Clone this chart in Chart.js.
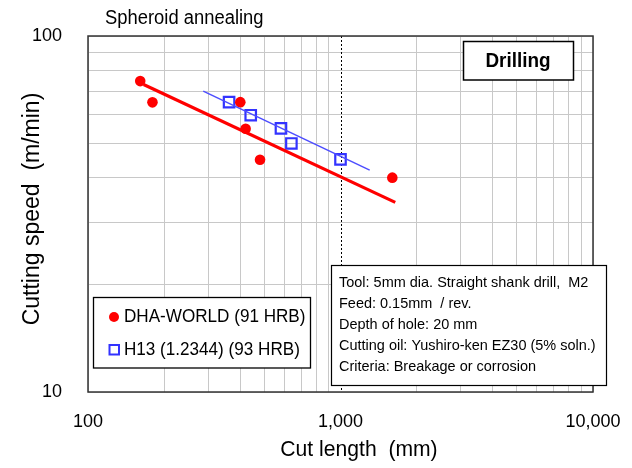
<!DOCTYPE html>
<html>
<head>
<meta charset="utf-8">
<script src="https://cdn.jsdelivr.net/npm/chart.js@4.4.1/dist/chart.umd.min.js"></script>
<style>
  html, body { margin: 0; padding: 0; background: #fff; }
  canvas { display: block; }
</style>
</head>
<body>
<canvas id="c" width="632" height="468"></canvas>
<script>
// ---- data ----
const dhaX = [161, 180, 401, 421, 480, 1604];
const dhaY = [74.7, 65.1, 65.2, 54.9, 44.9, 40.0];
const h13X = [362, 441, 581, 639, 1000];
const h13Y = [65.2, 59.9, 55.0, 49.9, 45.0];
const dhaFitX = [166, 1648];
const dhaFitY = [73.1, 34.1];
const h13FitX = [286, 1305];
const h13FitY = [70.0, 42.0];

const xTickVals = [100,200,300,400,500,600,700,800,900,1000,2000,3000,4000,5000,6000,7000,8000,9000,10000];
const yTickVals = [10,20,30,40,50,60,70,80,90,100];
const xMajor = [100, 1000, 10000];
const xMajorLabels = ['100', '1,000', '10,000'];
const yMajor = [10, 100];
const yMajorLabels = ['10', '100'];

const seriesNames = ['DHA-WORLD (91 HRB)', 'H13 (1.2344) (93 HRB)'];
const chartTitle = 'Spheroid annealing';
const boxLabel = 'Drilling';
const xTitle = 'Cut length  (mm)';
const yTitle = 'Cutting speed  (m/min)';
const infoLines = [
  'Tool: 5mm dia. Straight shank drill,  M2',
  'Feed: 0.15mm  / rev.',
  'Depth of hole: 20 mm',
  'Cutting oil: Yushiro-ken EZ30 (5% soln.)',
  'Criteria: Breakage or corrosion'
];

const FONT = "'Liberation Sans', Arial, sans-serif";
const RED = '#ff0000';
const BLUE = '#3333ff';

const pts = (xs, ys) => xs.map((x, i) => ({x: x, y: ys[i]}));

function drawText(ctx, text, x, y, font, align, sx) {
  ctx.save();
  ctx.translate(x, y);
  ctx.scale(sx, 1);
  ctx.font = font;
  ctx.textAlign = align;
  ctx.textBaseline = 'middle';
  ctx.fillStyle = '#000';
  ctx.fillText(text, 0, 0);
  ctx.restore();
}

const annot = {
  id: 'annot',
  beforeDatasetsDraw(chart) {
    const {ctx, chartArea: a, scales: {x}} = chart;
    ctx.save();
    const px = Math.round(x.getPixelForValue(1000)) + 0.5;
    ctx.strokeStyle = '#000';
    ctx.lineWidth = 1;
    ctx.setLineDash([2, 2]);
    ctx.beginPath(); ctx.moveTo(px, a.top); ctx.lineTo(px, a.bottom); ctx.stroke();
    ctx.setLineDash([]);
    ctx.lineWidth = 1.5;
    ctx.strokeStyle = '#333';
    ctx.strokeRect(a.left, a.top, a.right - a.left, a.bottom - a.top);
    ctx.restore();
  },
  afterDraw(chart) {
    const ctx = chart.ctx;
    ctx.save();
    // chart title
    drawText(ctx, chartTitle, 105, 18, '20px ' + FONT, 'left', 0.92);
    // axis titles
    drawText(ctx, xTitle, 359, 450, '22px ' + FONT, 'center', 0.96);
    ctx.save();
    ctx.translate(33, 209);
    ctx.rotate(-Math.PI / 2);
    drawText(ctx, yTitle, 0, 0, '23px ' + FONT, 'center', 1.0);
    ctx.restore();

    // Drilling box
    ctx.fillStyle = '#fff';
    ctx.fillRect(463.5, 41.5, 110, 38.5);
    ctx.strokeStyle = '#000';
    ctx.lineWidth = 1.5;
    ctx.strokeRect(463.5, 41.5, 110, 38.5);
    drawText(ctx, boxLabel, 518, 61, 'bold 21px ' + FONT, 'center', 0.9);

    // legend box
    ctx.fillStyle = '#fff';
    ctx.fillRect(93.5, 297.5, 217, 70.5);
    ctx.strokeStyle = '#000';
    ctx.lineWidth = 1.3;
    ctx.strokeRect(93.5, 297.5, 217, 70.5);
    ctx.fillStyle = RED;
    ctx.beginPath(); ctx.arc(114, 317, 5, 0, Math.PI * 2); ctx.fill();
    ctx.strokeStyle = BLUE;
    ctx.lineWidth = 2;
    ctx.strokeRect(109.5, 345, 9.5, 9.5);
    drawText(ctx, seriesNames[0], 124, 317, '19px ' + FONT, 'left', 0.9);
    drawText(ctx, seriesNames[1], 124, 350, '19px ' + FONT, 'left', 0.9);

    // info box
    ctx.fillStyle = '#fff';
    ctx.fillRect(331.5, 265.5, 275, 120);
    ctx.strokeStyle = '#000';
    ctx.lineWidth = 1.2;
    ctx.strokeRect(331.5, 265.5, 275, 120);
    const ly = [283, 304, 325, 346, 367];
    infoLines.forEach((t, i) => drawText(ctx, t, 339, ly[i], '15px ' + FONT, 'left', 0.965));
    ctx.restore();
  }
};

const gridColor = (major) => (c) => {
  if (!c.tick) return '#c8c8c8';
  if (c.tick.value === 1000 && major) return 'rgba(0,0,0,0)';
  return '#c8c8c8';
};

new Chart(document.getElementById('c'), {
  type: 'scatter',
  data: {
    datasets: [
      { label: 'DHA fit', data: pts(dhaFitX, dhaFitY), showLine: true, borderColor: RED, borderWidth: 3.2, pointRadius: 0, fill: false },
      { label: 'H13 fit', data: pts(h13FitX, h13FitY), showLine: true, borderColor: '#4d4dff', borderWidth: 1.5, pointRadius: 0, fill: false },
      { label: seriesNames[0], data: pts(dhaX, dhaY), pointStyle: 'circle', pointRadius: 5.3, backgroundColor: RED, borderColor: RED, borderWidth: 0 },
      { label: seriesNames[1], data: pts(h13X, h13Y), pointStyle: 'rect', pointRadius: 7.4, backgroundColor: 'rgba(255,255,255,0)', borderColor: BLUE, borderWidth: 2.2 }
    ]
  },
  options: {
    responsive: false,
    animation: false,
    devicePixelRatio: 1,
    layout: { padding: { top: 36, right: 39, left: 0, bottom: 0 } },
    plugins: { legend: { display: false }, tooltip: { enabled: false }, title: { display: false } },
    scales: {
      x: {
        type: 'logarithmic',
        min: 100, max: 10000,
        afterBuildTicks: (s) => { s.ticks = xTickVals.map(v => ({value: v})); },
        afterFit: (s) => { s.height = 76; s.paddingLeft = 0; s.paddingRight = 0; },
        grid: { color: gridColor(true), lineWidth: 1, drawTicks: false },
        border: { display: false },
        ticks: {
          autoSkip: false, maxRotation: 0, padding: 19,
          color: '#000', font: { family: FONT, size: 18 },
          callback: (v) => { const i = xMajor.indexOf(v); return i >= 0 ? xMajorLabels[i] : ''; }
        }
      },
      y: {
        type: 'logarithmic',
        min: 10, max: 100,
        afterBuildTicks: (s) => { s.ticks = yTickVals.map(v => ({value: v})); },
        afterFit: (s) => { s.width = 88; s.paddingTop = 0; s.paddingBottom = 0; },
        grid: { color: gridColor(false), lineWidth: 1, drawTicks: false },
        border: { display: false },
        ticks: {
          autoSkip: false, padding: 26,
          color: '#000', font: { family: FONT, size: 18 },
          callback: (v) => { const i = yMajor.indexOf(v); return i >= 0 ? yMajorLabels[i] : ''; }
        }
      }
    }
  },
  plugins: [annot]
});
</script>
</body>
</html>
